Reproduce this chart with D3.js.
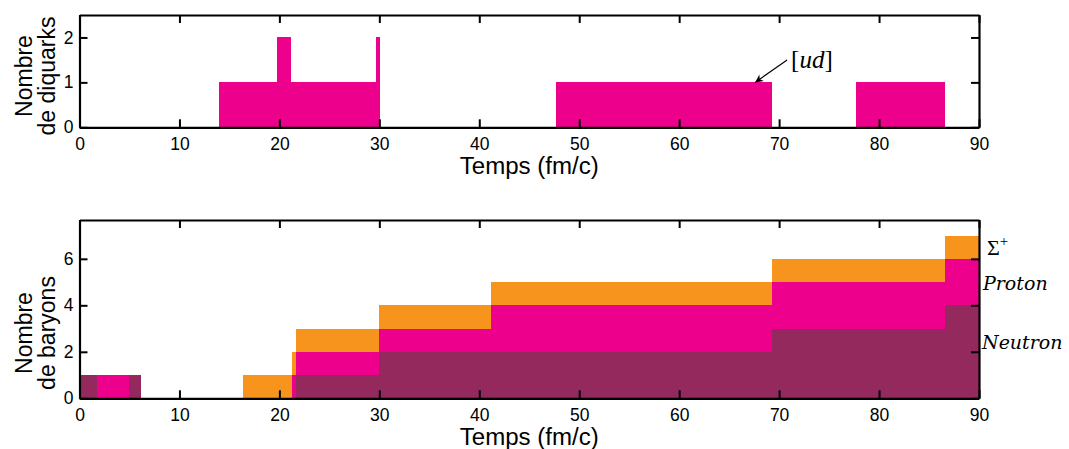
<!DOCTYPE html>
<html><head><meta charset="utf-8">
<script src="https://cdn.jsdelivr.net/npm/d3@7"></script>
<style>
body{margin:0;background:#fff;}
svg{display:block;}
.lab{font-family:"Liberation Sans",Arial,sans-serif;font-size:23px;fill:#000;}
.math{font-family:"DejaVu Serif","Liberation Serif",serif;font-style:italic;fill:#000;}
</style></head>
<body>
<svg id="c" width="1069" height="449"></svg>
<script>
// ---- data ----
const xTicks = [0,10,20,30,40,50,60,70,80,90];
const diquarkTicks = [0,1,2];
const baryonTicks = [0,2,4,6];
// step boundaries (fm/c) and diquark counts in each interval
const diquarkT = [0,14,19.8,21.2,29.7,30.05,47.7,69.3,77.7,86.6,90];
const diquarkN = [0,1,2,1,2,0,1,0,1,0];
// baryon step boundaries and counts per species
const baryonT = [0,1.8,5,6.2,16.4,21.3,21.7,30,41.2,69.3,86.6,90];
const neutronN = [1,0,1,0,0,0,1,2,2,3,4];
const protonN  = [0,1,0,0,0,1,1,1,2,2,2];
const sigmaN   = [0,0,0,0,1,1,1,1,1,1,1];
const seriesNames = ["Neutron","Proton","Sigma"];
const colors = {Neutron:"#93295D", Proton:"#EC008C", Sigma:"#F7941E"};

const svg = d3.select("#c");
const x = d3.scaleLinear().domain([0,90]).range([79.5,979]);
const y1 = d3.scaleLinear().domain([0,2.5]).range([127.3,15]);
const y2 = d3.scaleLinear().domain([0,7.67]).range([398.3,220]);

// ---- top panel ----
const g1 = svg.append("g");
const dq = diquarkN.map((n,i)=>({t0:diquarkT[i],t1:diquarkT[i+1],n}));
g1.selectAll("rect.dq").data(dq.filter(d=>d.n>0)).join("rect")
  .attr("x",d=>x(d.t0)).attr("width",d=>x(d.t1)-x(d.t0))
  .attr("y",d=>y1(d.n)).attr("height",d=>y1(0)-y1(d.n))
  .attr("fill",colors.Proton).attr("shape-rendering","crispEdges");

// ---- bottom panel (stacked) ----
const g2 = svg.append("g");
const rows = neutronN.map((v,i)=>({t0:baryonT[i],t1:baryonT[i+1],Neutron:v,Proton:protonN[i],Sigma:sigmaN[i]}));
const stack = d3.stack().keys(seriesNames)(rows);
stack.forEach(layer=>{
  g2.selectAll(null).data(layer.filter(d=>d[1]>d[0])).join("rect")
    .attr("x",d=>x(d.data.t0)).attr("width",d=>x(d.data.t1)-x(d.data.t0))
    .attr("y",d=>y2(d[1])).attr("height",d=>y2(d[0])-y2(d[1]))
    .attr("fill",colors[layer.key]).attr("shape-rendering","crispEdges");
});

// ---- axes ----
const fmt = d3.format("d");
function axes(g, y, yt){
  const [yb,yt0] = y.range();
  const gs = [];
  gs.push(g.append("g").attr("transform",`translate(0,${yb})`)
    .call(d3.axisBottom(x).tickValues(xTicks).tickFormat(fmt).tickSize(-8).tickSizeOuter(0).tickPadding(10)));
  gs.push(g.append("g").attr("transform",`translate(0,${yt0})`)
    .call(d3.axisTop(x).tickValues(xTicks).tickSize(-8).tickSizeOuter(0).tickFormat("")));
  gs.push(g.append("g").attr("transform",`translate(${x(0)},0)`)
    .call(d3.axisLeft(y).tickValues(yt).tickFormat(fmt).tickSize(-8).tickSizeOuter(0).tickPadding(6)));
  gs.push(g.append("g").attr("transform",`translate(${x(90)},0)`)
    .call(d3.axisRight(y).tickValues(yt).tickSize(-8).tickSizeOuter(0).tickFormat("")));
  gs.forEach(a=>a.attr("font-size",17.5).attr("font-family","'Liberation Sans',Arial,sans-serif"));
  g.selectAll(".domain").attr("stroke","#000").attr("stroke-width",2.2);
  g.selectAll(".tick line").attr("stroke","#000").attr("stroke-width",2);
  g.selectAll(".tick text").attr("fill","#000");
  g.append("text").attr("class","lab").attr("text-anchor","middle")
    .attr("x",(x(0)+x(90))/2).attr("y",yb+46.5)
    .attr("textLength",139).attr("lengthAdjust","spacingAndGlyphs").text("Temps (fm/c)");
}
axes(g1,y1,diquarkTicks);
axes(g2,y2,baryonTicks);

function ylabel(lines, cy){
  const t = svg.append("text").attr("class","lab").attr("text-anchor","middle")
    .attr("transform",`translate(0,${cy}) rotate(-90)`);
  lines.forEach((l,i)=>t.append("tspan").attr("x",0).attr("y",32+i*22.5).text(l));
}
ylabel(["Nombre","de diquarks"],76);
ylabel(["Nombre","de baryons"],333);

// ---- annotation [ud] ----
const defs = svg.append("defs");
defs.append("marker").attr("id","ah").attr("viewBox","0 0 10 10").attr("refX",10).attr("refY",5)
  .attr("markerWidth",10).attr("markerHeight",8).attr("orient","auto").attr("markerUnits","userSpaceOnUse")
  .append("path").attr("d","M0,0 L10,5 L0,10 L3,5 z").attr("fill","#000");
const arrowTail = [70.8,1.5], arrowTip = [67.6,1.0];
svg.append("line").attr("x1",x(arrowTail[0])).attr("y1",y1(arrowTail[1]))
  .attr("x2",x(arrowTip[0])).attr("y2",y1(arrowTip[1]))
  .attr("stroke","#000").attr("stroke-width",1.2).attr("marker-end","url(#ah)");
const ud = svg.append("text").attr("x",x(71.2)).attr("y",y1(1.5)+8).attr("font-size",25)
  .attr("font-family","'Liberation Serif','DejaVu Serif',serif");
ud.append("tspan").text("[");
ud.append("tspan").attr("font-style","italic").text("ud");
ud.append("tspan").text("]");

// ---- species labels ----
const sl = svg.append("text").attr("x",x(90)+8).attr("y",y2(6.5)+8).attr("font-size",22)
  .attr("font-family","'Liberation Serif','DejaVu Serif',serif");
sl.append("tspan").text("Σ");
sl.append("tspan").attr("font-size",15).attr("dy",-9).text("+");
svg.append("text").attr("class","math").attr("x",x(90)+4).attr("y",y2(4.9)+6)
  .attr("font-size",19).text("Proton");
svg.append("text").attr("class","math").attr("x",x(90)+3).attr("y",y2(2.4)+6)
  .attr("font-size",19).text("Neutron");
</script>
</body></html>
